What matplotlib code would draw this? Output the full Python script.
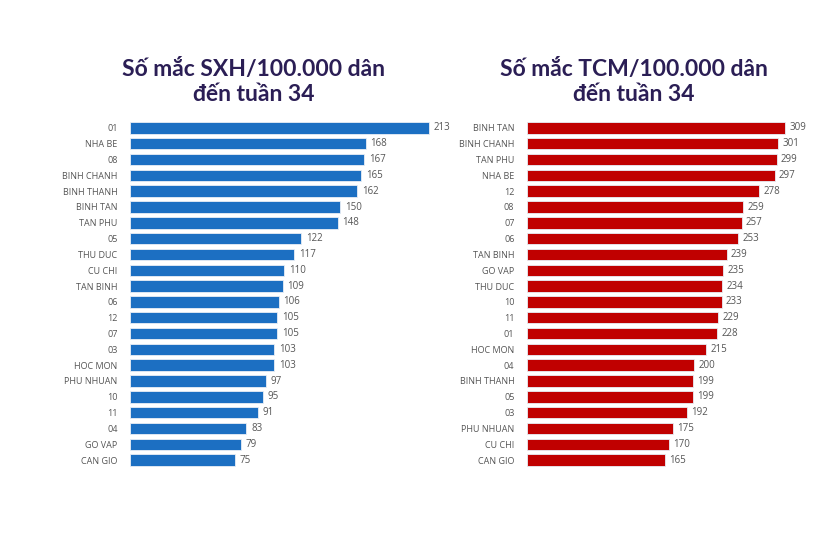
import matplotlib
matplotlib.use("Agg")
import matplotlib.pyplot as plt

sxh_districts = ["01", "NHA BE", "08", "BINH CHANH", "BINH THANH", "BINH TAN", "TAN PHU",
                 "05", "THU DUC", "CU CHI", "TAN BINH", "06", "12", "07", "03", "HOC MON",
                 "PHU NHUAN", "10", "11", "04", "GO VAP", "CAN GIO"]
sxh_values = [213, 168, 167, 165, 162, 150, 148, 122, 117, 110, 109, 106, 105, 105, 103, 103,
              97, 95, 91, 83, 79, 75]

tcm_districts = ["BINH TAN", "BINH CHANH", "TAN PHU", "NHA BE", "12", "08", "07", "06",
                 "TAN BINH", "GO VAP", "THU DUC", "10", "11", "01", "HOC MON", "04",
                 "BINH THANH", "05", "03", "PHU NHUAN", "CU CHI", "CAN GIO"]
tcm_values = [309, 301, 299, 297, 278, 259, 257, 253, 239, 235, 234, 233, 229, 228, 215, 200,
              199, 199, 192, 175, 170, 165]

titles = ["Số mắc SXH/100.000 dân\nđến tuần 34", "Số mắc TCM/100.000 dân\nđến tuần 34"]

W, H = 840, 560
fig = plt.figure(figsize=(8.4, 5.6), dpi=100)
fig.patch.set_facecolor("white")

def px_axes(x0, x1, y0, y1):
    return fig.add_axes([x0 / W, 1 - y1 / H, (x1 - x0) / W, (y1 - y0) / H])

panels = [
    (sxh_districts, sxh_values, "#1c6fc2", (130, 440), 221, 254),
    (tcm_districts, tcm_values, "#c00000", (527, 800), 327, 634),
]
for i, (cats, vals, color, (x0, x1), xmax, tcx) in enumerate(panels):
    ax = px_axes(x0, x1, 120, 468)
    y = list(range(len(cats)))
    ax.barh(y, vals, height=0.72, color=color, edgecolor="#e8eef5", linewidth=0.6)
    ax.set_xlim(0, xmax)
    ax.set_ylim(len(cats) - 0.5, -0.5)
    ax.set_yticks(y)
    ax.set_yticklabels(cats, fontsize=6.5, color="#555555", family="Open Sans")
    ax.tick_params(axis="y", length=0, pad=9)
    ax.set_xticks([])
    for s in ax.spines.values():
        s.set_visible(False)
    for yy, v in zip(y, vals):
        ax.text(v + xmax * 0.015, yy, str(v), va="center", ha="left", fontsize=7,
                color="#555555", family="Open Sans")
    fig.text(tcx / W, 1 - 82 / H, titles[i], ha="center", va="center", fontsize=16.5,
             fontweight="bold", color="#2b1e55", family="Lato", linespacing=1.2)

fig.savefig("out.png", dpi=100, facecolor="white")
